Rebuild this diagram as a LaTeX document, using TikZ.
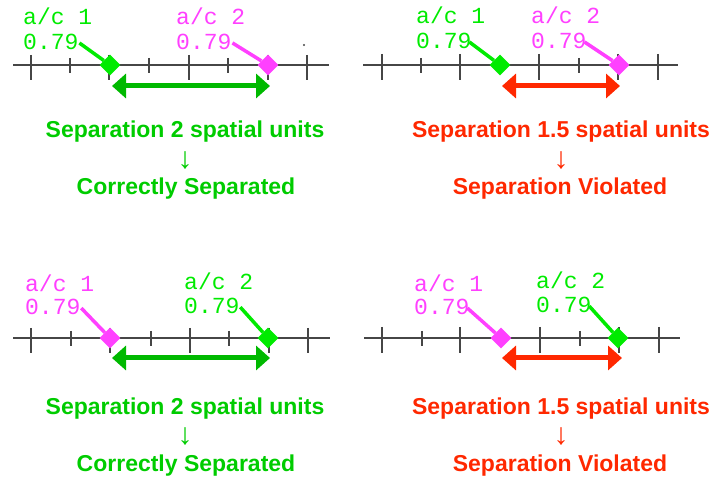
\documentclass[tikz,border=0pt]{standalone}
\usepackage{fontspec}
\setmainfont{Liberation Sans}
\newfontfamily\acmono{Liberation Mono}
\usetikzlibrary{shapes.geometric,arrows.meta}
\definecolor{acgreen}{RGB}{0,235,0}
\definecolor{acpink}{RGB}{255,64,255}
\definecolor{okgreen}{RGB}{0,204,0}
\definecolor{arrgreen}{RGB}{0,185,0}
\definecolor{badred}{RGB}{255,40,0}
\definecolor{axisgray}{RGB}{70,70,70}
\begin{document}
\begin{tikzpicture}[x=1pt, y=-1pt,
    axis/.style={draw=axisgray, line width=1.3pt},
    longtick/.style={draw=axisgray, line width=1.5pt},
    shorttick/.style={draw=axisgray, line width=1.5pt},
    ac/.style={font=\acmono\fontsize{23}{23}\selectfont, inner sep=0pt, anchor=base west},
    plane/.style={diamond, minimum size=21pt, inner sep=0pt},
    leader/.style={line width=3.5pt, shorten <=1pt},
    sep/.style={line width=5pt,
                {Triangle[length=14pt,width=24pt]}-{Triangle[length=14pt,width=24pt]}},
    verdict/.style={font=\bfseries\fontsize{23}{23}\selectfont, inner sep=0pt, anchor=base},
    thenarrow/.style={font=\fontsize{30}{30}\selectfont, inner sep=0pt}]
    \useasboundingbox (0,0) rectangle (713,478);

    % top left: 2 units, correctly separated
    \draw[axis] (13,65) -- (329,65);
    \foreach \x in {31,109,189,268,307} \draw[longtick] (\x,55) -- (\x,80);
    \foreach \x in {70,149,228} \draw[shorttick] (\x,58) -- (\x,73);
    \fill[axisgray] (304,45) circle (1.2);
    \node[ac, text=acgreen] (tlname1) at (23,25) {a/c 1};
    \node[ac, text=acgreen] (tlalt1)  at (23,50) {0.79};
    \node[ac, text=acpink]  (tlname2) at (176,25) {a/c 2};
    \node[ac, text=acpink]  (tlalt2)  at (176,50) {0.79};
    \node[plane, fill=acgreen] (tlac1) at (110,65) {};
    \node[plane, fill=acpink]  (tlac2) at (268,65) {};
    \draw[leader, acgreen] (tlalt1.east) -- (tlac1);
    \draw[leader, acpink]  (tlalt2.east) -- (tlac2);
    \draw[sep, arrgreen] ([shift={(2pt,-21pt)}]tlac1.center) -- ([shift={(2pt,-21pt)}]tlac2.center);
    \node[verdict, text=okgreen] (tlsep) at (185,138) {Separation 2 spatial units};
    \node[thenarrow, text=okgreen] (tldown) at (185,161) {↓};
    \node[verdict, text=okgreen] (tlok) at (186,195) {Correctly Separated};

    % top right: 1.5 units, violated
    \draw[axis] (363,65) -- (678,65);
    \foreach \x in {382,460,539,618,658} \draw[longtick] (\x,54) -- (\x,80);
    \foreach \x in {421,500,579} \draw[shorttick] (\x,58) -- (\x,73);
    \node[ac, text=acgreen] (trname1) at (416,24) {a/c 1};
    \node[ac, text=acgreen] (tralt1)  at (416,49) {0.79};
    \node[ac, text=acpink]  (trname2) at (531,24) {a/c 2};
    \node[ac, text=acpink]  (tralt2)  at (531,49) {0.79};
    \node[plane, fill=acgreen] (trac1) at (500,65) {};
    \node[plane, fill=acpink]  (trac2) at (619,65) {};
    \draw[leader, acgreen] ([xshift=-3pt]tralt1.east) -- (trac1);
    \draw[leader, acpink]  ([xshift=-3pt]tralt2.east) -- (trac2);
    \draw[sep, badred] ([shift={(2pt,-21pt)}]trac1.center) -- ([shift={(1pt,-21pt)}]trac2.center);
    \node[verdict, text=badred] (trsep) at (561,138) {Separation 1.5 spatial units};
    \node[thenarrow, text=badred] (trdown) at (561,161) {↓};
    \node[verdict, text=badred] (trbad) at (560,195) {Separation Violated};

    % bottom left: 2 units, correctly separated
    \draw[axis] (13,338) -- (330,338);
    \foreach \x in {31,110,190,269,308} \draw[longtick] (\x,328) -- (\x,353);
    \foreach \x in {71,151,229} \draw[shorttick] (\x,331) -- (\x,346);
    \node[ac, text=acpink]  (blname1) at (25,292) {a/c 1};
    \node[ac, text=acpink]  (blalt1)  at (25,315) {0.79};
    \node[ac, text=acgreen] (blname2) at (184,290) {a/c 2};
    \node[ac, text=acgreen] (blalt2)  at (184,314) {0.79};
    \node[plane, fill=acpink]  (blac1) at (110,338) {};
    \node[plane, fill=acgreen] (blac2) at (268,338) {};
    \draw[leader, acpink]  (blalt1.east) -- (blac1);
    \draw[leader, acgreen] (blalt2.east) -- (blac2);
    \draw[sep, arrgreen] ([shift={(2pt,-20pt)}]blac1.center) -- ([shift={(2pt,-20pt)}]blac2.center);
    \node[verdict, text=okgreen] (blsep) at (185,415) {Separation 2 spatial units};
    \node[thenarrow, text=okgreen] (bldown) at (185,437) {↓};
    \node[verdict, text=okgreen] (blok) at (186,472) {Correctly Separated};

    % bottom right: 1.5 units, violated
    \draw[axis] (364,338) -- (680,338);
    \foreach \x in {382,460,540,619,659} \draw[longtick] (\x,327) -- (\x,353);
    \foreach \x in {422,500,580} \draw[shorttick] (\x,331) -- (\x,346);
    \node[ac, text=acpink]  (brname1) at (414,292) {a/c 1};
    \node[ac, text=acpink]  (bralt1)  at (414,315) {0.79};
    \node[ac, text=acgreen] (brname2) at (536,289) {a/c 2};
    \node[ac, text=acgreen] (bralt2)  at (536,313) {0.79};
    \node[plane, fill=acpink]  (brac1) at (501,338) {};
    \node[plane, fill=acgreen] (brac2) at (618,338) {};
    \draw[leader, acpink]  ([xshift=-3pt]bralt1.east) -- (brac1);
    \draw[leader, acgreen] ([xshift=-3pt]bralt2.east) -- (brac2);
    \draw[sep, badred] ([shift={(1pt,-20pt)}]brac1.center) -- ([shift={(4pt,-20pt)}]brac2.center);
    \node[verdict, text=badred] (brsep) at (561,415) {Separation 1.5 spatial units};
    \node[thenarrow, text=badred] (brdown) at (561,437) {↓};
    \node[verdict, text=badred] (brbad) at (560,472) {Separation Violated};
\end{tikzpicture}
\end{document}
